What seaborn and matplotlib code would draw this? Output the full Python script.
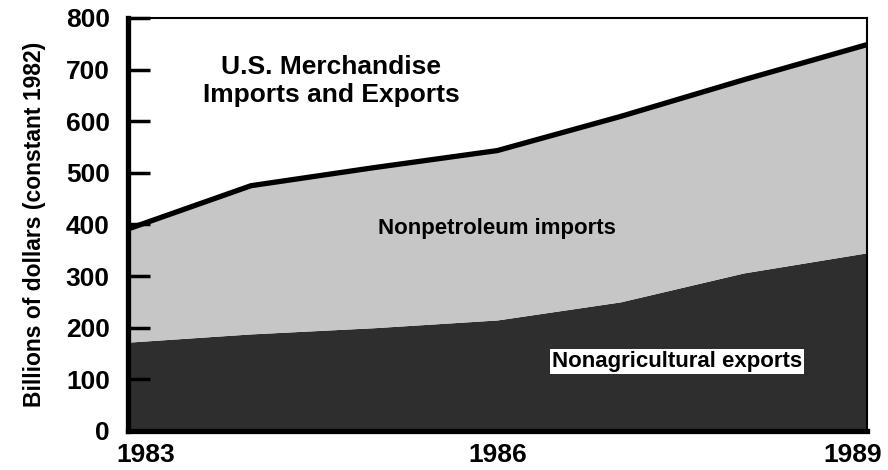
import matplotlib
matplotlib.use("Agg")
import matplotlib.pyplot as plt
import matplotlib.transforms as mtransforms
import seaborn as sns
import numpy as np
import pandas as pd

years = [1983, 1984, 1985, 1986, 1987, 1988, 1989]
nonag_exports = [172, 188, 200, 215, 250, 306, 345]
nonpetro_imports = [219, 287, 310, 328, 359, 374, 403]
yticks = [0, 100, 200, 300, 400, 500, 600, 700, 800]
xticks = [1983, 1986, 1989]

sns.set_style("white")
plt.rcParams['font.family'] = ['Liberation Sans', 'DejaVu Sans']
plt.rcParams.update({"text.color": "black", "axes.labelcolor": "black",
                     "xtick.color": "black", "ytick.color": "black"})

df = pd.DataFrame({"year": years, "exports": nonag_exports, "imports": nonpetro_imports})
df["total"] = df["exports"] + df["imports"]

fig = plt.figure(figsize=(8.88, 4.70), dpi=100)
ax = fig.add_axes([0.144, 0.083, 0.832, 0.879])
ax.set_axisbelow(False)

ax.fill_between(df["year"], 0, df["exports"], color="#2e2e2e", linewidth=0, zorder=1)
ax.fill_between(df["year"], df["exports"], df["total"], color="#c6c6c6", linewidth=0, zorder=1)
sns.lineplot(data=df, x="year", y="total", color="black", linewidth=3.8, ax=ax, zorder=3)

ax.set_xlim(1983, 1989)
ax.set_ylim(0, 800)
ax.set_yticks(yticks)
ax.set_yticklabels([str(v) for v in yticks], fontsize=19, fontweight="bold")
ax.set_xticks(xticks)
ax.set_xticklabels([str(v) for v in xticks], fontsize=19, fontweight="bold")
ax.tick_params(axis="y", direction="in", length=16, width=2.5, pad=13, left=True, color="black")
ax.tick_params(axis="x", length=0, pad=9)
ax.set_xlabel("")
ax.set_ylabel("Billions of dollars (constant 1982)", fontsize=16.5, fontweight="bold", labelpad=14)

xl = ax.get_xticklabels()
xl[0].set_transform(xl[0].get_transform() + mtransforms.ScaledTranslation(18 / 100, 0, fig.dpi_scale_trans))
xl[2].set_transform(xl[2].get_transform() + mtransforms.ScaledTranslation(-14 / 100, 0, fig.dpi_scale_trans))

for side in ["left", "bottom"]:
    ax.spines[side].set_linewidth(3.8)
    ax.spines[side].set_color("black")
for side in ["top", "right"]:
    ax.spines[side].set_linewidth(1.5)
    ax.spines[side].set_color("black")

ax.text(1984.65, 678, "U.S. Merchandise\nImports and Exports", ha="center", va="center",
        fontsize=19, fontweight="bold", linespacing=1.2, zorder=4, color="black")
ax.text(1986.0, 393, "Nonpetroleum imports", ha="center", va="center",
        fontsize=16, fontweight="bold", zorder=4, color="black")
ax.text(1987.46, 134, "Nonagricultural exports", ha="center", va="center",
        fontsize=16, fontweight="bold", zorder=4, color="black",
        bbox=dict(facecolor="white", edgecolor="none", pad=1.5))

fig.savefig("out.png", dpi=100)
